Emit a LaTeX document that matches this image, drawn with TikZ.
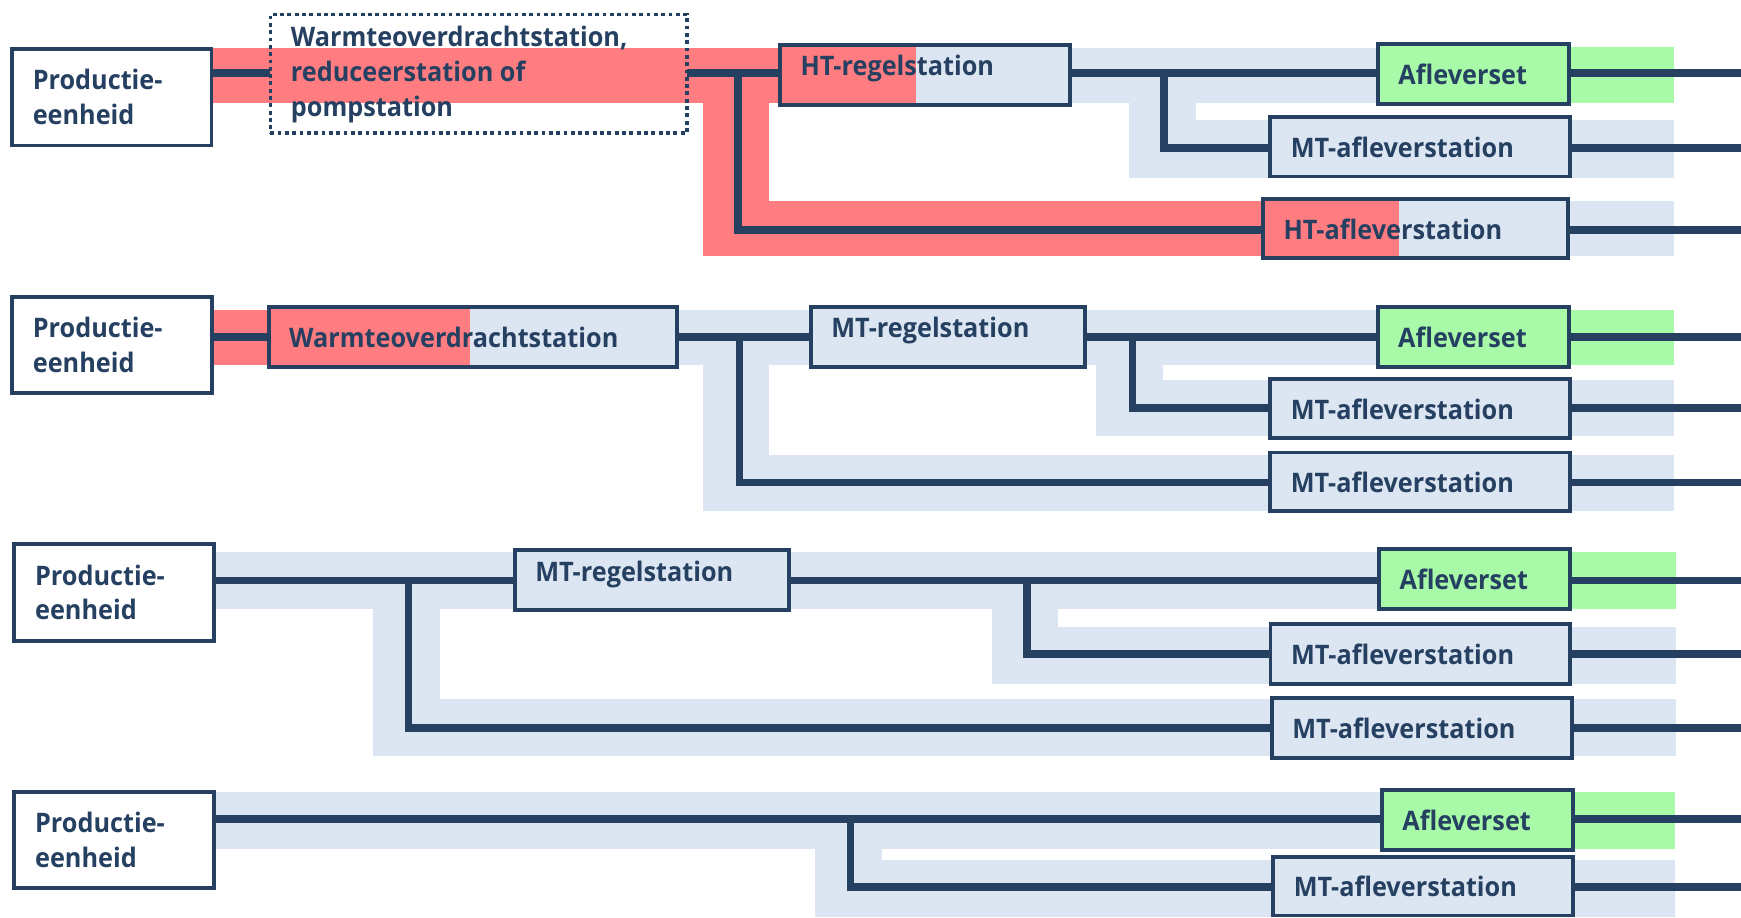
\documentclass[tikz,border=0pt]{standalone}
\usepackage{fontspec}
\setmainfont{Open Sans}[FakeStretch=0.94]
\definecolor{navy}{RGB}{37,64,97}
\definecolor{htred}{RGB}{255,124,128}
\definecolor{mtblue}{RGB}{220,230,242}
\definecolor{afgreen}{RGB}{168,249,168}
\pgfdeclarelayer{bandl}
\pgfdeclarelayer{pipel}
\pgfsetlayers{bandl,pipel,main}
\begin{document}
\begin{tikzpicture}[x=1pt,y=-1pt,
  box/.style={draw=navy, line width=3.5pt, rectangle, inner sep=0pt, outer sep=0pt, minimum height=54pt},
  prod/.style={box, fill=white, minimum width=180pt, minimum height=87pt},
  mt/.style={box, fill=mtblue},
  aflev/.style={box, fill=afgreen, minimum width=172pt},
  mtaf/.style={mt, minimum width=270pt},
  mtreg/.style={mt, minimum width=247pt},
  redpart/.style={path picture={\fill[htred] (path picture bounding box.south west) rectangle ([xshift=#1]path picture bounding box.north west);}},
  dotbox/.style={draw=navy, line width=3.3pt, dash pattern=on 3.4pt off 3.2pt, rectangle, inner sep=0pt, outer sep=0pt, minimum width=375pt, minimum height=107pt},
  pipe/.style={draw=navy, line width=7pt, line join=miter},
  lbl/.style={anchor=base west, inner sep=0pt, outer sep=0pt, text=navy, font=\fontsize{24.2}{30}\selectfont\bfseries},
  cen/.style={lbl, at={([xshift=18.5pt,yshift=-9.5pt]#1.west)}},
  reg/.style={lbl, at={([xshift=18.5pt,yshift=-1pt]#1.west)}},
  two/.style={lbl, at={([xshift=19pt,yshift=6.5pt]#1.west)}},
]
\useasboundingbox (0,0) rectangle (1568,826);
\begin{pgfonlayer}{bandl}
\fill[white] (0,0) rectangle (1568,826);
% section 1
\fill[htred] (190,43) rectangle (703,93);
\fill[htred] (633,43) rectangle (693,231);
\fill[htred] (633,181) rectangle (1137,231);
\fill[mtblue] (964,43) rectangle (1241,93);
\fill[mtblue] (1017,43) rectangle (1077,160);
\fill[mtblue] (1017,108) rectangle (1508,160);
\fill[mtblue] (1412,181) rectangle (1508,231);
\fill[afgreen] (1412,42) rectangle (1508,93);
% section 2
\fill[htred] (190,279) rectangle (243,329);
\fill[mtblue] (609,279) rectangle (731,329);
\fill[mtblue] (633,279) rectangle (693,460);
\fill[mtblue] (633,410) rectangle (1508,460);
\fill[mtblue] (976,279) rectangle (1242,329);
\fill[mtblue] (987,279) rectangle (1047,393);
\fill[mtblue] (987,342) rectangle (1508,393);
\fill[afgreen] (1412,279) rectangle (1508,329);
% section 3
\fill[mtblue] (192,497.5) rectangle (464,548.5);
\fill[mtblue] (336,497.5) rectangle (396,680.5);
\fill[mtblue] (336,629.5) rectangle (1509,680.5);
\fill[mtblue] (710,497.5) rectangle (1242,548.5);
\fill[mtblue] (893,497.5) rectangle (953,616);
\fill[mtblue] (893,564.5) rectangle (1509,616);
\fill[afgreen] (1414,497.5) rectangle (1509,548.5);
% section 4
\fill[mtblue] (192,713.5) rectangle (1245,764.5);
\fill[mtblue] (734,713.5) rectangle (794.5,826);
\fill[mtblue] (734,774.5) rectangle (1508.5,826);
\fill[afgreen] (1416,713.5) rectangle (1508.5,764.5);
\end{pgfonlayer}

% ---------- boxes ----------
\node[prod] (p1) at (100.5,87.5) {};
\node[dotbox] (dot) at (431,66.5) {};
\node[mt, redpart=122.5pt, minimum width=261.5pt] (htr) at (833.25,67.4) {};
\node[aflev] (af1) at (1327,67) {};
\node[mtaf] (mtaf1) at (1279,132) {};
\node[mt, redpart=122.5pt, minimum width=275pt, minimum height=53pt] (htaf) at (1275,206) {};
\node[prod] (p2) at (100.6,310.75) {};
\node[mt, redpart=181pt, minimum width=368pt] (wos) at (426,303.2) {};
\node[mtreg] (mtr2) at (853.75,303.3) {};
\node[aflev] (af2) at (1326.75,303.5) {};
\node[mtaf, minimum height=53pt] (mtaf2a) at (1279,368) {};
\node[mtaf, minimum height=53pt] (mtaf2b) at (1279,434) {};
\node[prod] (p3) at (102.6,533.8) {};
\node[mtreg] (mtr3) at (587.1,522.5) {};
\node[aflev] (af3) at (1328,521.7) {};
\node[mtaf] (mtaf3a) at (1279.2,589.3) {};
\node[mtaf] (mtaf3b) at (1280.4,655.4) {};
\node[prod] (p4) at (102.6,756.5) {};
\node[aflev] (af4) at (1330.5,738.5) {};
\node[mtaf, minimum height=53pt] (mtaf4) at (1281.7,798) {};

% ---------- labels ----------
\node[two=p1] (tp1) {\vtop{\baselineskip=31pt\hbox{Productie-}\hbox{eenheid}}};
\node[lbl, at={([xshift=18.5pt,yshift=25pt]dot.west)}] (tdot) {\vtop{\baselineskip=31.8pt\hbox{Warmteoverdrachtstation,}\hbox{reduceerstation of}\hbox{pompstation}}};
\node[reg=htr] (thtr) {HT-regelstation};
\node[cen=af1] (taf1) {Afleverset};
\node[cen=mtaf1] (tmtaf1) {MT-afleverstation};
\node[cen=htaf] (thtaf) {HT-afleverstation};
\node[two=p2] (tp2) {\vtop{\baselineskip=31pt\hbox{Productie-}\hbox{eenheid}}};
\node[cen=wos] (twos) {Warmteoverdrachtstation};
\node[reg=mtr2] (tmtr2) {MT-regelstation};
\node[cen=af2] (taf2) {Afleverset};
\node[cen=mtaf2a] (tmtaf2a) {MT-afleverstation};
\node[cen=mtaf2b] (tmtaf2b) {MT-afleverstation};
\node[two=p3] (tp3) {\vtop{\baselineskip=31pt\hbox{Productie-}\hbox{eenheid}}};
\node[reg=mtr3] (tmtr3) {MT-regelstation};
\node[cen=af3] (taf3) {Afleverset};
\node[cen=mtaf3a] (tmtaf3a) {MT-afleverstation};
\node[cen=mtaf3b] (tmtaf3b) {MT-afleverstation};
\node[two=p4] (tp4) {\vtop{\baselineskip=31pt\hbox{Productie-}\hbox{eenheid}}};
\node[cen=af4] (taf4) {Afleverset};
\node[cen=mtaf4] (tmtaf4) {MT-afleverstation};

% ---------- pipes ----------
\coordinate (E) at (1568,0);
\coordinate (r1) at (0,65.5);
\coordinate (r1b) at (0,133.5);
\coordinate (r1c) at (0,207);
\coordinate (j1) at (665,65.5);
\coordinate (j2) at (1048,65.5);
\coordinate (r2) at (0,303.5);
\coordinate (r2b) at (0,367.5);
\coordinate (r2c) at (0,434.5);
\coordinate (j3) at (666,303.5);
\coordinate (j4) at (1020,303.5);
\coordinate (r3) at (0,522.8);
\coordinate (r3b) at (0,589.3);
\coordinate (r3c) at (0,656);
\coordinate (j5) at (368,522.8);
\coordinate (j6) at (924.6,522.8);
\coordinate (r4) at (0,737.4);
\coordinate (r4b) at (0,799);
\coordinate (j7) at (766,737.4);
\begin{pgfonlayer}{pipel}
% section 1
\draw[pipe] (p1.east |- r1) -- (dot.west |- r1);
\draw[pipe] (dot.east |- r1) -- (htr.west |- r1);
\draw[pipe] (j1) |- (htaf.west |- r1c);
\draw[pipe] (htr.east |- r1) -- (af1.west |- r1);
\draw[pipe] (j2) |- (mtaf1.west |- r1b);
\draw[pipe] (af1.east |- r1) -- (E |- r1);
\draw[pipe] (mtaf1.east |- r1b) -- (E |- r1b);
\draw[pipe] (htaf.east |- r1c) -- (E |- r1c);
% section 2
\draw[pipe] (p2.east |- r2) -- (wos.west |- r2);
\draw[pipe] (wos.east |- r2) -- (mtr2.west |- r2);
\draw[pipe] (j3) |- (mtaf2b.west |- r2c);
\draw[pipe] (mtr2.east |- r2) -- (af2.west |- r2);
\draw[pipe] (j4) |- (mtaf2a.west |- r2b);
\draw[pipe] (af2.east |- r2) -- (E |- r2);
\draw[pipe] (mtaf2a.east |- r2b) -- (E |- r2b);
\draw[pipe] (mtaf2b.east |- r2c) -- (E |- r2c);
% section 3
\draw[pipe] (p3.east |- r3) -- (mtr3.west |- r3);
\draw[pipe] (j5) |- (mtaf3b.west |- r3c);
\draw[pipe] (mtr3.east |- r3) -- (af3.west |- r3);
\draw[pipe] (j6) |- (mtaf3a.west |- r3b);
\draw[pipe] (af3.east |- r3) -- (E |- r3);
\draw[pipe] (mtaf3a.east |- r3b) -- (E |- r3b);
\draw[pipe] (mtaf3b.east |- r3c) -- (E |- r3c);
% section 4
\draw[pipe] (p4.east |- r4) -- (af4.west |- r4);
\draw[pipe] (j7) |- (mtaf4.west |- r4b);
\draw[pipe] (af4.east |- r4) -- (E |- r4);
\draw[pipe] (mtaf4.east |- r4b) -- (E |- r4b);
\end{pgfonlayer}
\end{tikzpicture}
\end{document}
